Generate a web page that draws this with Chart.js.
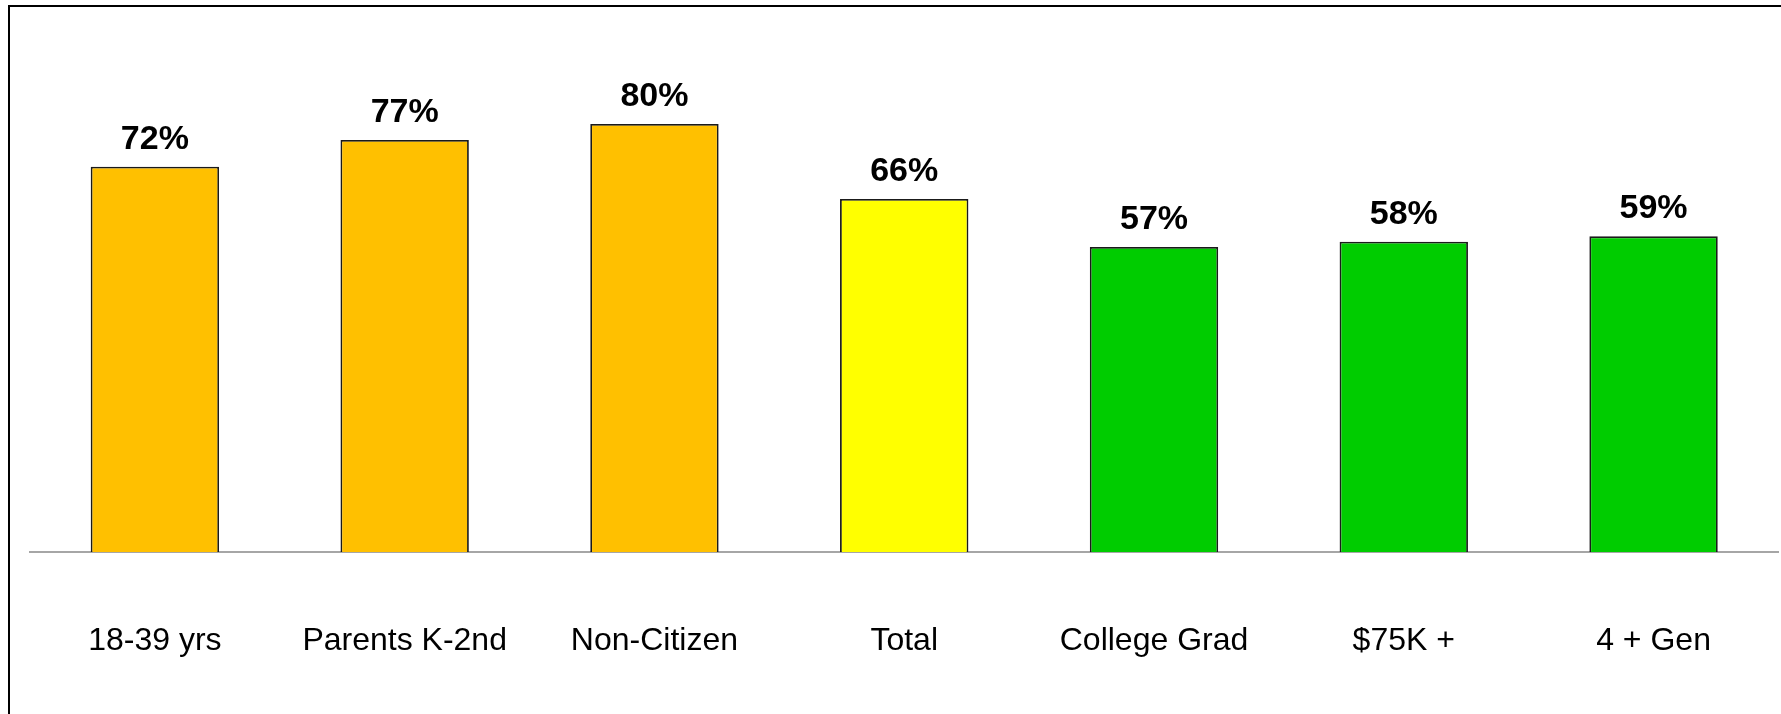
<!DOCTYPE html>
<html>
<head>
<meta charset="utf-8">
<script src="https://cdn.jsdelivr.net/npm/chart.js@4/dist/chart.umd.min.js"></script>
<style>
    html, body { margin: 0; padding: 0; background: #fff; overflow: hidden; }
    #wrap { position: relative; width: 1781px; height: 714px; }
    #frame { position: absolute; left: 8px; top: 5px; width: 2000px; height: 2000px; border: 2px solid #000; }
    #chart { position: absolute; left: 0; top: 0; }
</style>
</head>
<body>
<div id="wrap">
    <div id="frame"></div>
    <canvas id="chart" width="1781" height="714"></canvas>
</div>
<script>
const CATEGORIES = ['18-39 yrs', 'Parents K-2nd', 'Non-Citizen', 'Total', 'College Grad', '$75K +', '4 + Gen'];
const VALUES = [72, 77, 80, 66, 57, 58, 59];
const BAR_COLORS = ['#FFC000', '#FFC000', '#FFC000', '#FFFF00', '#00CC00', '#00CC00', '#00CC00'];

const valueLabels = {
    id: 'valueLabels',
    afterDatasetsDraw(chart) {
        const ctx = chart.ctx;
        const meta = chart.getDatasetMeta(0);
        ctx.save();
        ctx.font = 'bold 34px "Liberation Sans", Arial, sans-serif';
        ctx.fillStyle = '#000';
        ctx.textAlign = 'center';
        ctx.textBaseline = 'alphabetic';
        meta.data.forEach(function (bar, i) {
            ctx.fillText(VALUES[i] + '%', bar.x, bar.y - 18);
        });
        ctx.restore();
    }
};

function initConfig() {
    return {
        type: 'bar',
        data: {
            labels: CATEGORIES,
            datasets: [{
                data: VALUES,
                backgroundColor: BAR_COLORS,
                borderColor: '#1a1a1a',
                borderWidth: 1.8,
                categoryPercentage: 1,
                barPercentage: 0.514
            }]
        },
        options: {
            responsive: false,
            animation: false,
            layout: { padding: { left: 30, right: 1, top: 17, bottom: 57 } },
            plugins: {
                legend: { display: false },
                tooltip: { enabled: false },
                title: { display: false }
            },
            scales: {
                x: {
                    grid: { display: false, drawTicks: false },
                    border: { display: true, color: '#a6a6a6', width: 2 },
                    ticks: {
                        color: '#000',
                        padding: 70,
                        font: { family: '"Liberation Sans", Arial, sans-serif', size: 32 }
                    },
                    afterFit(scale) {
                        // keep the axis line where the reference has it
                        scale.height = 105;
                    }
                },
                y: {
                    display: false,
                    min: 0,
                    max: 100
                }
            }
        },
        plugins: [valueLabels]
    };
}

new Chart(document.getElementById('chart'), initConfig());
</script>
</body>
</html>
